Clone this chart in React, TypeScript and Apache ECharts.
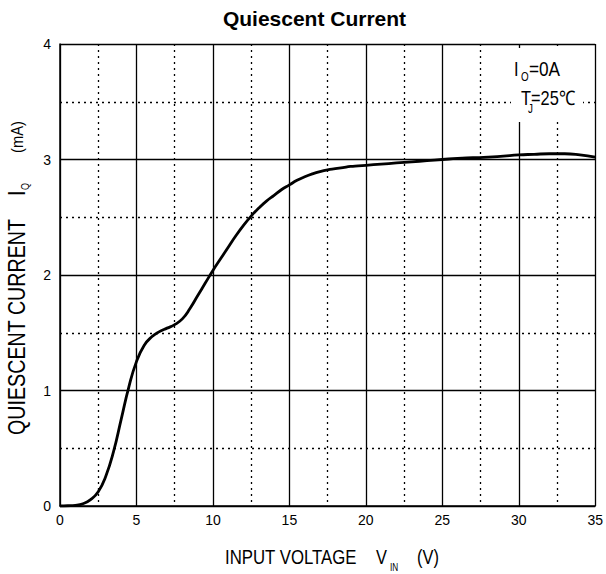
import React, { useEffect, useRef } from "react";
import * as echarts from "echarts";

// Input voltage V_IN (V)
const voltage = [
  0, 0.5, 1, 1.5, 2, 2.5, 3, 3.5, 4, 4.5, 5, 5.5, 6, 6.5, 7, 7.5, 8, 8.5, 9, 9.5,
  10, 10.5, 11, 11.5, 12, 12.5, 13, 13.5, 14, 14.5, 15, 15.5, 16, 16.5, 17, 17.5, 18, 18.5, 19, 19.5,
  20, 21, 22, 23, 24, 25, 26, 27, 28, 29, 30, 31, 32, 33, 34, 35,
];
// Quiescent current I_Q (mA)
const current = [
  0, 0.002, 0.006, 0.02, 0.055, 0.124, 0.26, 0.47, 0.75, 1.03, 1.25, 1.39, 1.465, 1.51, 1.54, 1.57, 1.62, 1.71, 1.82, 1.93,
  2.04, 2.14, 2.24, 2.34, 2.43, 2.51, 2.58, 2.64, 2.69, 2.74, 2.78, 2.82, 2.85, 2.875, 2.895, 2.91, 2.92, 2.93, 2.94, 2.945,
  2.95, 2.96, 2.97, 2.98, 2.99, 3.0, 3.01, 3.015, 3.02, 3.03, 3.04, 3.045, 3.05, 3.05, 3.04, 3.02,
];

const xRange = { min: 0, max: 35, interval: 5 };
const yRange = { min: 0, max: 4, interval: 1 };

const titleText = "Quiescent Current";
const xTitleParts = ["INPUT VOLTAGE", "V", "IN", "(V)"];
const yTitleParts = ["QUIESCENT CURRENT", "I", "Q", "(mA)"];
const noteParts = ["I", "O", "=0A", "T", "J", "=25℃"];

const SANS = "'Liberation Sans', Arial, sans-serif";
const NARROW_SCALE = 0.82;

export default function App() {
  const ref = useRef<HTMLDivElement>(null);

  useEffect(() => {
    if (!ref.current) return;
    const chart = echarts.init(ref.current, undefined, { renderer: "svg" });
    const data = voltage.map((v, i) => [v, current[i]]);

    const solid = { color: "#000", width: 1.3, type: "solid" as const };
    const dotted = { color: "#000", width: 1.3, type: [2, 4] as any };

    const txt = (x: number, y: number, text: string, fontSize: number, extra: any = {}) => ({
      type: "text",
      x,
      y,
      z: 20,
      scaleX: NARROW_SCALE,
      ...extra,
      style: {
        text,
        fontSize,
        fontFamily: SANS,
        fill: "#000",
        align: "left",
        verticalAlign: "middle",
      },
    });

    const rot = { rotation: Math.PI / 2 };

    chart.setOption({
      animation: false,
      backgroundColor: "#fff",
      grid: { left: 60, right: 8, top: 44, bottom: 68, containLabel: false },
      xAxis: {
        type: "value",
        min: xRange.min,
        max: xRange.max,
        interval: xRange.interval,
        axisLine: { show: true, lineStyle: { color: "#000", width: 1.5 } },
        axisTick: { show: false },
        axisLabel: { color: "#000", fontSize: 14, fontFamily: SANS, margin: 7 },
        splitLine: { show: true, lineStyle: solid },
        minorTick: { show: false, splitNumber: 2 },
        minorSplitLine: { show: true, lineStyle: dotted },
      },
      yAxis: {
        type: "value",
        min: yRange.min,
        max: yRange.max,
        interval: yRange.interval,
        axisLine: { show: true, lineStyle: { color: "#000", width: 1.5 } },
        axisTick: { show: false },
        axisLabel: { color: "#000", fontSize: 14, fontFamily: SANS, margin: 9 },
        splitLine: { show: true, lineStyle: solid },
        minorTick: { show: false, splitNumber: 2 },
        minorSplitLine: { show: true, lineStyle: dotted },
      },
      series: [
        {
          type: "line",
          data,
          showSymbol: false,
          smooth: 0.5,
          lineStyle: { color: "#000", width: 2.8 },
          z: 5,
        },
      ],
      graphic: [
        {
          type: "text",
          x: 314.5,
          y: 18.5,
          z: 20,
          style: {
            text: titleText,
            fontSize: 21,
            fontWeight: "bold",
            fontFamily: SANS,
            fill: "#000",
            align: "center",
            verticalAlign: "middle",
          },
        },
        // x axis title
        txt(225, 557, xTitleParts[0], 20, { scaleX: 0.84 }),
        txt(376, 557, xTitleParts[1], 20),
        txt(390, 568, xTitleParts[2], 10),
        txt(417, 557, xTitleParts[3], 20),
        // y axis title (rotated)
        txt(17, 435, yTitleParts[0], 24, rot),
        txt(17, 196, yTitleParts[1], 24, rot),
        txt(25, 190, yTitleParts[2], 11, rot),
        txt(17.5, 153, yTitleParts[3], 17, { ...rot, scaleX: 0.87 }),
        // note box
        {
          type: "rect",
          z: 15,
          shape: { x: 511, y: 48, width: 72, height: 74 },
          style: { fill: "#fff" },
        },
        txt(514, 69, noteParts[0], 20),
        txt(521, 77, noteParts[1], 12),
        txt(529, 69, noteParts[2], 21),
        txt(521, 97.5, noteParts[3], 20),
        txt(528, 109, noteParts[4], 12),
        txt(531, 97.5, noteParts[5], 20),
      ],
    });

    return () => chart.dispose();
  }, []);

  return (
    <div
      ref={ref}
      style={{ position: "fixed", left: 0, top: 0, width: 606, height: 574, background: "#fff" }}
    />
  );
}
